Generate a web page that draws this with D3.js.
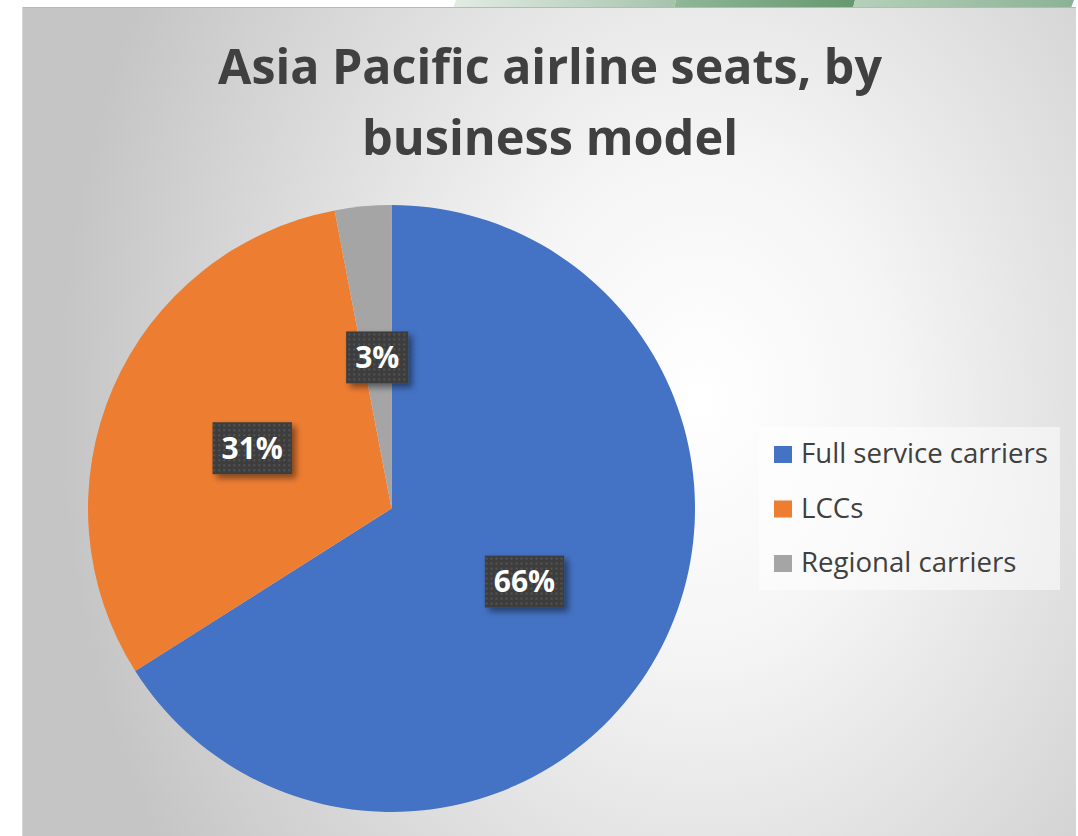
<!DOCTYPE html>
<html>
<head>
<meta charset="utf-8">
<script src="https://cdn.jsdelivr.net/npm/d3@7"></script>
<style>
  html, body { margin: 0; padding: 0; background: #ffffff; }
  svg { display: block; }
</style>
</head>
<body>
<svg id="chart" width="1078" height="836"></svg>
<script>
// Seat share by airline business model (percent)
const categories = ["Full service carriers", "LCCs", "Regional carriers"];
const shares = [66, 31, 3];
const colors = ["#4472C4", "#ED7D31", "#A5A5A5"];
const titleLines = ["Asia Pacific airline seats, by", "business model"];

const W = 1078, H = 836;
const svg = d3.select("#chart");
const defs = svg.append("defs");

// Soft radial background of the chart area
const bg = defs.append("radialGradient")
  .attr("id", "bgGrad")
  .attr("gradientUnits", "userSpaceOnUse")
  .attr("cx", 700).attr("cy", 400).attr("r", 640)
  .attr("gradientTransform", "translate(700,400) scale(1,1.3) translate(-700,-400)");
bg.append("stop").attr("offset", 0).attr("stop-color", "#ffffff");
bg.append("stop").attr("offset", 0.3).attr("stop-color", "#f5f5f5");
bg.append("stop").attr("offset", 1).attr("stop-color", "#c5c5c5");

// Dotted fill used behind the data labels
const pat = defs.append("pattern")
  .attr("id", "dots")
  .attr("patternUnits", "userSpaceOnUse")
  .attr("width", 5).attr("height", 5);
pat.append("rect").attr("width", 5).attr("height", 5).attr("fill", "#3e3e3e");
pat.append("rect").attr("x", 1).attr("y", 1).attr("width", 2).attr("height", 2).attr("fill", "#525252");

const shadow = defs.append("filter")
  .attr("id", "lblShadow")
  .attr("x", "-30%").attr("y", "-30%").attr("width", "170%").attr("height", "180%");
shadow.append("feDropShadow")
  .attr("dx", 4).attr("dy", 4).attr("stdDeviation", 3)
  .attr("flood-color", "#000").attr("flood-opacity", 0.45);

// Green banner strip along the top edge
const greenGrads = [
  ["g1", "#e2ece4", "#a6c3ac"],
  ["g2", "#8fb798", "#66986f"],
  ["g3", "#b5d0ba", "#8cb295"]
];
greenGrads.forEach(([id, a, b]) => {
  const g = defs.append("linearGradient").attr("id", id);
  g.append("stop").attr("offset", 0).attr("stop-color", a);
  g.append("stop").attr("offset", 1).attr("stop-color", b);
});
const strip = svg.append("g");
strip.append("polygon").attr("points", "456,0 676,0 674,8 453,8").attr("fill", "url(#g1)");
strip.append("polygon").attr("points", "676,0 855,0 853,8 674,8").attr("fill", "url(#g2)");
strip.append("polygon").attr("points", "855,0 1074,0 1071,8 853,8").attr("fill", "url(#g3)");

// Chart area
svg.append("rect")
  .attr("x", 22).attr("y", 7).attr("width", 1054).attr("height", H - 7)
  .attr("fill", "url(#bgGrad)");
svg.append("line").attr("x1", 22).attr("x2", 1076).attr("y1", 7.5).attr("y2", 7.5)
  .attr("stroke", "#b8b8b8").attr("stroke-width", 1);
svg.append("line").attr("x1", 22.5).attr("x2", 22.5).attr("y1", 7).attr("y2", H)
  .attr("stroke", "#d8d8d8").attr("stroke-width", 1);

// Title
const titleFont = "'Open Sans', 'DejaVu Sans', sans-serif";
const titleWidths = [664, 376];
const titleBaselines = [84, 155];
svg.append("g").selectAll("text")
  .data(titleLines)
  .join("text")
  .attr("x", 550)
  .attr("y", (d, i) => titleBaselines[i])
  .attr("text-anchor", "middle")
  .attr("font-family", titleFont)
  .attr("font-weight", 700)
  .attr("font-size", 49)
  .attr("fill", "#404040")
  .attr("textLength", (d, i) => titleWidths[i])
  .attr("lengthAdjust", "spacingAndGlyphs")
  .text(d => d);

// Pie
const cx = 391.5, cy = 508.5, R = 303.5;
const pie = d3.pie().sort(null).value(d => d)(shares);
const arc = d3.arc().innerRadius(0).outerRadius(R);
const pieG = svg.append("g").attr("transform", `translate(${cx},${cy})`);
pieG.selectAll("path")
  .data(pie)
  .join("path")
  .attr("d", arc)
  .attr("fill", (d, i) => colors[i]);

// Data labels in dark dotted boxes
const lblSize = 30;
const labels = pieG.selectAll("g.lbl")
  .data(pie)
  .join("g")
  .attr("class", "lbl")
  .attr("transform", d => `translate(${arc.centroid(d)})`);
labels.each(function (d) {
  const g = d3.select(this);
  const box = g.append("rect").attr("fill", "url(#dots)").attr("filter", "url(#lblShadow)");
  const t = g.append("text")
    .attr("text-anchor", "middle")
    .attr("y", lblSize * 0.357)
    .attr("font-family", titleFont)
    .attr("font-weight", 700)
    .attr("font-size", lblSize)
    .attr("fill", "#ffffff")
    .text(d.data + "%");
  const w = t.node().getComputedTextLength() + 18;
  const h = 52;
  box.attr("x", -w / 2).attr("y", -h / 2).attr("width", w).attr("height", h);
});

// Legend
const legend = svg.append("g");
legend.append("rect")
  .attr("x", 759).attr("y", 427).attr("width", 301).attr("height", 163)
  .attr("fill", "#ffffff").attr("fill-opacity", 0.5);
const rowY = d3.scalePoint().domain(categories).range([463, 572]);
const rows = legend.selectAll("g.row")
  .data(categories)
  .join("g")
  .attr("class", "row")
  .attr("transform", d => `translate(774,${rowY(d)})`);
rows.append("rect")
  .attr("x", 0).attr("y", -17).attr("width", 18).attr("height", 17)
  .attr("fill", (d, i) => colors[i]);
rows.append("text")
  .attr("x", 27).attr("y", 0)
  .attr("font-family", titleFont)
  .attr("font-size", 27.6)
  .attr("fill", "#404040")
  .text(d => d);
</script>
</body>
</html>
